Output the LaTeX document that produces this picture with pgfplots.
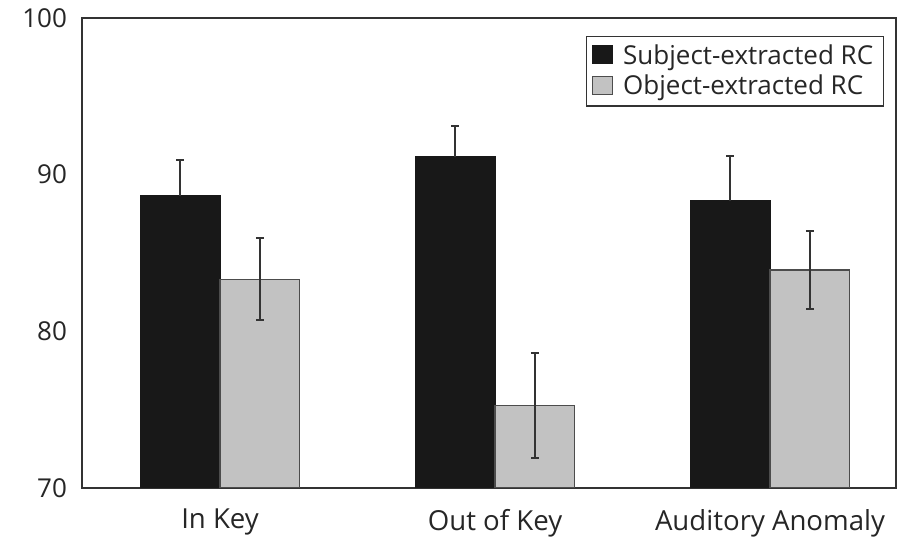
\documentclass[border=0pt]{standalone}
\usepackage{pgfplots}
\pgfplotsset{compat=1.18}
\usepackage{fontspec}
\setmainfont{Open Sans}
\definecolor{barblack}{HTML}{181818}
\definecolor{bargrey}{HTML}{C2C2C2}
\definecolor{axisgrey}{HTML}{333333}
\begin{document}
\begin{tikzpicture}
\useasboundingbox (-41pt,-26pt) rectangle (412.5pt,244pt);
\begin{axis}[
  scale only axis,
  width=407pt, height=235pt,
  at={(0,0)}, anchor=south west,
  xmin=-0.502, xmax=2.458,
  ymin=70, ymax=100,
  ytick={70,80,90,100},
  xtick={0,1,2},
  xticklabels={In Key, Out of Key, Auditory Anomaly},
  major tick length=0pt,
  axis line style={draw=axisgrey, line width=0.75pt},
  /pgf/number format/assume math mode=true,
  tick label style={text=black!85},
  yticklabel style={font=\fontsize{13}{14}\selectfont, xshift=-4pt},
  xticklabel style={font=\fontsize{13.8}{15}\selectfont, yshift=-7pt},
  ybar=0pt,
  bar width=0.29,
  legend style={at={(0.985,0.962)}, anchor=north east, draw=axisgrey, line width=0.6pt,
    font=\fontsize{13}{14}\selectfont, text=black!85, inner xsep=3pt, inner ysep=2pt, row sep=0pt,
    cells={anchor=west}},
  legend image code/.code={\draw[#1, line width=0.5pt] (0pt,-4pt) rectangle (10pt,5pt);},
  error bars/y explicit,
  error bars/error bar style={line width=0.7pt, draw=axisgrey},
  error bars/error mark options={rotate=90, mark size=2pt, line width=1pt, draw=axisgrey},
]
\addplot[fill=barblack, draw=barblack, line width=0.5pt, error bars/y dir=plus] coordinates {
  (0,88.64) +- (0,2.30)
  (1,91.15) +- (0,1.96)
  (2,88.34) +- (0,2.87)
};
\addplot[fill=bargrey, draw=black!70, line width=0.6pt, error bars/y dir=both] coordinates {
  (0,83.33) +- (0,2.63)
  (1,75.27) +- (0,3.35)
  (2,83.91) +- (0,2.48)
};
\legend{\hspace{3pt}Subject-extracted RC, \hspace{3pt}Object-extracted RC}
\end{axis}
\end{tikzpicture}
\end{document}
